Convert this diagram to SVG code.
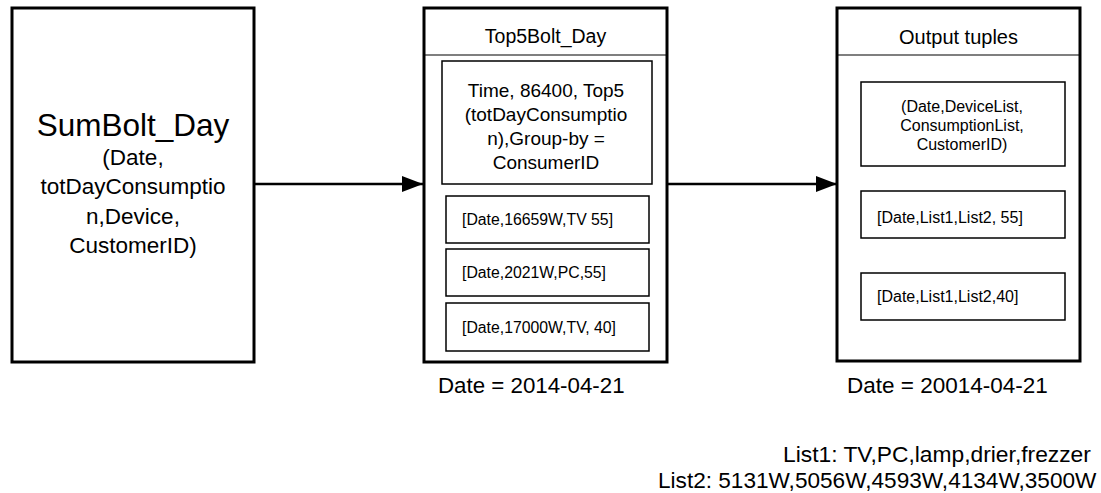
<svg xmlns="http://www.w3.org/2000/svg" width="1101" height="493" viewBox="0 0 1101 493">
  <style>
    text { font-family: "Liberation Sans", Arial, sans-serif; fill: #000; }
    .outer { fill: #fff; stroke: #000; stroke-width: 3; }
    .sep { stroke: #000; stroke-width: 1.2; }
    .inner { fill: #fff; stroke: #000; stroke-width: 1.5; }
    .conn { stroke: #000; stroke-width: 2.5; fill: none; }
    .c { text-anchor: middle; }
  </style>
  <defs>
    <marker id="arrow" markerUnits="userSpaceOnUse" markerWidth="21" markerHeight="16" refX="21" refY="8" orient="auto">
      <path d="M0,0 L21,8 L0,16 z" fill="#000"/>
    </marker>
  </defs>
  <rect width="1101" height="493" fill="#fff"/>

  <g id="sumbolt">
    <rect class="outer" x="12" y="8" width="242" height="354"/>
    <text class="c" x="133" y="136" font-size="31.5">SumBolt_Day</text>
    <text class="c" x="133" y="165" font-size="22.5">(Date,</text>
    <text class="c" x="133" y="194" font-size="22.5">totDayConsumptio</text>
    <text class="c" x="133" y="223.5" font-size="22.5">n,Device,</text>
    <text class="c" x="133" y="252.5" font-size="22.5">CustomerID)</text>
  </g>

  <g id="top5bolt">
    <rect class="outer" x="424" y="8" width="243" height="354"/>
    <line class="sep" x1="424" y1="55" x2="667" y2="55"/>
    <text class="c" x="545.5" y="43" font-size="19.5">Top5Bolt_Day</text>
    <rect class="inner" x="442" y="61" width="210" height="123"/>
    <text class="c" x="546" y="97" font-size="19">Time, 86400, Top5</text>
    <text class="c" x="546" y="121" font-size="19">(totDayConsumptio</text>
    <text class="c" x="546" y="145" font-size="19">n),Group-by =</text>
    <text class="c" x="546" y="169" font-size="19">ConsumerID</text>
    <rect class="inner" x="446" y="196" width="203" height="47"/>
    <text x="462" y="225" font-size="15.8">[Date,16659W,TV 55]</text>
    <rect class="inner" x="446" y="249" width="203" height="47"/>
    <text x="462" y="278" font-size="15.8">[Date,2021W,PC,55]</text>
    <rect class="inner" x="446" y="303" width="203" height="48"/>
    <text x="462" y="333" font-size="15.8">[Date,17000W,TV, 40]</text>
    <text x="438" y="393" font-size="22.3">Date = 2014-04-21</text>
  </g>

  <g id="output">
    <rect class="outer" x="837" y="8" width="243" height="353"/>
    <line class="sep" x1="837" y1="55" x2="1080" y2="55"/>
    <text class="c" x="958.5" y="43.5" font-size="20">Output tuples</text>
    <rect class="inner" x="861" y="82" width="204" height="84"/>
    <text class="c" x="962" y="112" font-size="16">(Date,DeviceList,</text>
    <text class="c" x="962" y="131" font-size="16">ConsumptionList,</text>
    <text class="c" x="962" y="150" font-size="16">CustomerID)</text>
    <rect class="inner" x="861" y="191" width="204" height="47"/>
    <text x="877" y="223" font-size="16">[Date,List1,List2, 55]</text>
    <rect class="inner" x="861" y="273" width="204" height="47"/>
    <text x="877" y="302" font-size="16">[Date,List1,List2,40]</text>
    <text x="847" y="393" font-size="22.5">Date = 20014-04-21</text>
  </g>

  <g id="legend">
    <text x="783" y="462" font-size="22.8">List1: TV,PC,lamp,drier,frezzer</text>
    <text x="658" y="488" font-size="22.6">List2: 5131W,5056W,4593W,4134W,3500W</text>
  </g>

  <g id="connectors">
    <line class="conn" x1="254" y1="184" x2="423" y2="184" marker-end="url(#arrow)"/>
    <line class="conn" x1="667" y1="184" x2="837" y2="184" marker-end="url(#arrow)"/>
  </g>
</svg>
